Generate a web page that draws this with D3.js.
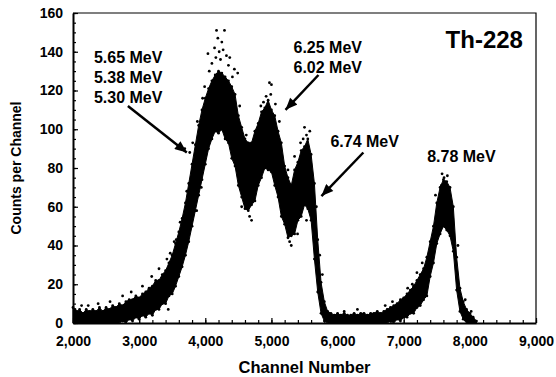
<!DOCTYPE html>
<html>
<head>
<meta charset="utf-8">
<script src="https://cdn.jsdelivr.net/npm/d3@7"></script>
<style>
  body { margin: 0; background: #fff; }
  svg { display: block; font-family: "Liberation Sans", Arial, sans-serif; font-weight: bold; }
</style>
</head>
<body>
<div id="chart"></div>
<script>
// Channels sampled every 50 (2000 -> 8100)
const channels = [
  2000, 2050, 2100, 2150, 2200, 2250, 2300, 2350, 2400, 2450,
  2500, 2550, 2600, 2650, 2700, 2750, 2800, 2850, 2900, 2950,
  3000, 3050, 3100, 3150, 3200, 3250, 3300, 3350, 3400, 3450,
  3500, 3550, 3600, 3650, 3700, 3750, 3800, 3850, 3900, 3950,
  4000, 4050, 4100, 4150, 4200, 4250, 4300, 4350, 4400, 4450,
  4500, 4550, 4600, 4650, 4700, 4750, 4800, 4850, 4900, 4950,
  5000, 5050, 5100, 5150, 5200, 5250, 5300, 5350, 5400, 5450,
  5500, 5550, 5600, 5650, 5700, 5750, 5800, 5850, 5900, 5950,
  6000, 6050, 6100, 6150, 6200, 6250, 6300, 6350, 6400, 6450,
  6500, 6550, 6600, 6650, 6700, 6750, 6800, 6850, 6900, 6950,
  7000, 7050, 7100, 7150, 7200, 7250, 7300, 7350, 7400, 7450,
  7500, 7550, 7600, 7650, 7700, 7750, 7800, 7850, 7900, 7950,
  8000, 8050, 8100
];
// Lower edge of the counts scatter at each channel
const lowerCounts = [
  0, 0, 0, 0, 0, 0, 0, 0, 0, 0,
  0, 0, 0, 0, 0, 1, 0, 2, 1, 3,
  2, 4, 3, 5, 4, 7, 7, 10, 10, 14,
  15, 19, 24, 29, 35, 42, 50, 58, 66, 74,
  82, 90, 95, 99, 98, 100, 95, 93, 85, 81,
  71, 65, 59, 58, 61, 63, 71, 75, 80, 79,
  78, 71, 65, 55, 51, 44, 45, 46, 53, 55,
  61, 59, 53, 33, 16, 5, 1, 0, 0, 0,
  0, 0, 0, 0, 0, 0, 0, 0, 0, 0,
  0, 0, 0, 0, 0, 0, 1, 0, 2, 1,
  3, 3, 5, 5, 8, 9, 12, 14, 24, 31,
  41, 46, 50, 48, 45, 37, 17, 6, 2, 0,
  0, 0, 0
];
// Upper edge of the counts scatter at each channel
const upperCounts = [
  8, 6, 7, 5, 7, 6, 7, 6, 8, 6,
  8, 7, 9, 8, 10, 9, 11, 12, 12, 14,
  13, 15, 16, 18, 19, 22, 22, 25, 27, 31,
  35, 41, 47, 54, 62, 72, 82, 92, 102, 110,
  116, 121, 125, 128, 130, 129, 127, 125, 122, 118,
  107, 101, 95, 93, 93, 99, 103, 109, 111, 115,
  110, 107, 99, 93, 81, 75, 71, 79, 83, 89,
  91, 95, 87, 72, 43, 21, 11, 6, 5, 4,
  5, 4, 5, 4, 4, 5, 4, 5, 5, 4,
  5, 5, 6, 5, 6, 7, 8, 9, 10, 12,
  13, 15, 17, 19, 22, 25, 28, 34, 42, 50,
  62, 70, 74, 73, 70, 60, 34, 18, 11, 7,
  5, 3, 1
];
// Isolated points outside the dense band
const strayChannels = [
  4170, 4290, 4190, 4250, 4140, 4040, 4210, 4370, 4440, 4100, 4320, 4230, 4160, 4270, 4060, 3990, 4350, 4490, 4410,
  3765, 3810, 3690, 3620, 3560, 3870, 3940, 3720, 3530, 3470, 3420, 3880, 3960,
  4550, 4700, 4670, 4620, 4520,
  4970, 5000, 4920, 4990, 4880, 5060, 4840, 5120,
  5275, 5395, 5530, 5300, 5500, 5530, 5480, 5580, 5350, 5440, 5250,
  5680, 5730, 5770,
  2380, 2230, 2030, 2750, 3190, 3360, 3440, 3300, 2560, 2880, 3050, 2130,
  6720, 6830, 6300, 6100,
  7130, 7430, 7580, 7610, 7570, 7870, 7660, 7480, 7280, 7820, 7930, 8020, 7200, 7060
];
const strayCounts = [
  151, 151, 147, 145, 142, 139, 140, 137, 131, 134, 138, 136, 137, 141, 130, 122, 133, 129, 127,
  88, 93, 90, 52, 43, 58, 70, 68, 42, 36, 33, 104, 116,
  60, 53, 55, 97, 112,
  124, 123, 117, 118, 114, 113, 112, 104,
  42, 46, 53, 40, 101, 97, 95, 99, 86, 93, 79,
  60, 35, 25,
  10, 9, 7, 14, 24, 24, 7, 28, 11, 16, 19, 9,
  9, 11, 7, 6,
  20, 39, 77, 75, 71, 12, 76, 66, 31, 40, 12, 6, 26, 18
];

const xTicks = [2000, 3000, 4000, 5000, 6000, 7000, 8000, 9000];
const yTicks = [0, 20, 40, 60, 80, 100, 120, 140, 160];

// Peak labels: text lines, anchor (channel, count), arrow from -> to
const peakLabels = [
  {lines: ["5.65 MeV", "5.38 MeV", "5.30 MeV"], ch: 2317, count: 134, from: [2830, 112], to: [3720, 88]},
  {lines: ["6.25 MeV", "6.02 MeV"], ch: 5334, count: 139.4, from: [5711, 128], to: [5213, 110]},
  {lines: ["6.74 MeV"], ch: 5892, count: 90.8, from: [6390, 88], to: [5756, 65.5]},
  {lines: ["8.78 MeV"], ch: 7355, count: 83, from: null, to: null}
];

const drawChart = () => {
  const width = 556;
  const height = 377;
  const margin = {top: 13, right: 20, bottom: 54, left: 73};
  const innerWidth = width - margin.left - margin.right;
  const innerHeight = height - margin.top - margin.bottom;

  const svg = d3.select("#chart")
    .append("svg")
      .attr("width", width)
      .attr("height", height);

  svg.append("defs")
    .append("marker")
      .attr("id", "head")
      .attr("markerUnits", "userSpaceOnUse")
      .attr("viewBox", "0 0 12 10")
      .attr("refX", 12)
      .attr("refY", 5)
      .attr("markerWidth", 13)
      .attr("markerHeight", 10)
      .attr("orient", "auto")
    .append("path")
      .attr("d", "M0,0 L12,5 L0,10 Z")
      .attr("fill", "#000");

  const innerChart = svg.append("g")
    .attr("transform", `translate(${margin.left}, ${margin.top})`);

  const xScale = d3.scaleLinear()
    .domain([2000, 9000])
    .range([0, innerWidth]);
  const yScale = d3.scaleLinear()
    .domain([0, 160])
    .range([innerHeight, 0]);

  // Dense band of counts
  const idx = d3.range(channels.length);
  const band = d3.area()
    .x(i => xScale(channels[i]))
    .y0(i => yScale(lowerCounts[i]))
    .y1(i => yScale(upperCounts[i]));
  innerChart.append("path")
    .attr("d", band(idx))
    .attr("fill", "#000")
    .attr("stroke", "#000")
    .attr("stroke-width", 1)
    .attr("stroke-linejoin", "round");

  // Points along the band edges
  innerChart.append("g")
    .selectAll("circle")
    .data(idx)
    .join("circle")
      .attr("cx", i => xScale(channels[i]))
      .attr("cy", i => yScale(upperCounts[i]))
      .attr("r", 1.4);
  innerChart.append("g")
    .selectAll("circle")
    .data(idx.filter(i => lowerCounts[i] > 0))
    .join("circle")
      .attr("cx", i => xScale(channels[i]))
      .attr("cy", i => yScale(lowerCounts[i]))
      .attr("r", 1.4);

  // Stray points
  innerChart.append("g")
    .selectAll("circle")
    .data(strayChannels)
    .join("circle")
      .attr("cx", (d, i) => xScale(d))
      .attr("cy", (d, i) => yScale(strayCounts[i]))
      .attr("r", 1.4);

  // Axes (ticks point inward)
  const xMinor = d3.axisBottom(xScale).ticks(35).tickFormat("").tickSize(-3).tickSizeOuter(0);
  innerChart.append("g")
    .attr("transform", `translate(0, ${innerHeight})`)
    .call(xMinor)
    .call(g => g.select(".domain").remove());
  const bottomAxis = d3.axisBottom(xScale)
    .tickValues(xTicks)
    .tickFormat(d3.format(","))
    .tickSize(-5)
    .tickSizeOuter(0)
    .tickPadding(13);
  innerChart.append("g")
    .attr("class", "axis-x")
    .attr("transform", `translate(0, ${innerHeight})`)
    .call(bottomAxis);

  const yMinor = d3.axisLeft(yScale).ticks(32).tickFormat("").tickSize(-3).tickSizeOuter(0);
  innerChart.append("g")
    .call(yMinor)
    .call(g => g.select(".domain").remove());
  const leftAxis = d3.axisLeft(yScale)
    .tickValues(yTicks)
    .tickSize(-5)
    .tickSizeOuter(0)
    .tickPadding(10);
  innerChart.append("g")
    .attr("class", "axis-y")
    .call(leftAxis);

  innerChart.selectAll(".tick text")
    .attr("font-family", "'Liberation Sans', Arial, sans-serif")
    .attr("font-weight", "bold")
    .attr("font-size", 14)
    .attr("fill", "#000");
  innerChart.selectAll(".domain, .tick line")
    .attr("stroke", "#000")
    .attr("stroke-width", 1.2);
  innerChart.selectAll(".axis-x .domain, .axis-y .domain")
    .attr("stroke-width", 2);

  // Top and right frame
  innerChart.append("path")
    .attr("d", `M0,0 H${innerWidth} V${innerHeight}`)
    .attr("fill", "none")
    .attr("stroke", "#000")
    .attr("stroke-width", 1.2);

  // Peak labels and arrows
  peakLabels.forEach(p => {
    const t = innerChart.append("text")
      .attr("x", xScale(p.ch))
      .attr("y", yScale(p.count))
      .attr("font-size", 16)
      .attr("fill", "#000");
    p.lines.forEach((line, j) => {
      t.append("tspan")
        .attr("x", xScale(p.ch))
        .attr("dy", j === 0 ? 0 : 20)
        .text(line);
    });
    if (p.from) {
      innerChart.append("line")
        .attr("x1", xScale(p.from[0]))
        .attr("y1", yScale(p.from[1]))
        .attr("x2", xScale(p.to[0]))
        .attr("y2", yScale(p.to[1]))
        .attr("stroke", "#000")
        .attr("stroke-width", 2.5)
        .attr("marker-end", "url(#head)");
    }
  });

  // Isotope label
  innerChart.append("text")
    .attr("x", xScale(8803))
    .attr("y", yScale(142))
    .attr("text-anchor", "end")
    .attr("font-size", 24)
    .text("Th-228");

  // Axis titles
  svg.append("text")
    .attr("x", margin.left + innerWidth / 2)
    .attr("y", 373)
    .attr("text-anchor", "middle")
    .attr("font-size", 16.5)
    .text("Channel Number");
  svg.append("text")
    .attr("transform", `translate(21, ${margin.top + innerHeight / 2}) rotate(-90)`)
    .attr("text-anchor", "middle")
    .attr("font-size", 14)
    .text("Counts per Channel");
};

drawChart();
</script>
</body>
</html>
